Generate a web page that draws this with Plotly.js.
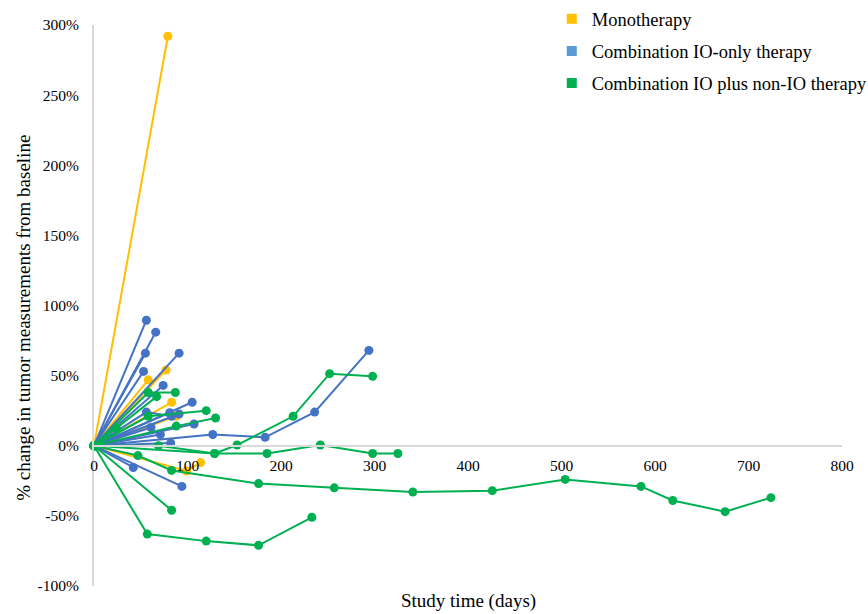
<!DOCTYPE html>
<html>
<head>
<meta charset="utf-8">
<script src="https://cdn.plot.ly/plotly-3.0.1.min.js"></script>
<style>html,body{margin:0;padding:0;background:#fff;}#chart{width:868px;height:614px;}</style>
</head>
<body>
<div id="chart"></div>
<script>
// Series names
const seriesNames = ["Monotherapy", "Combination IO-only therapy", "Combination IO plus non-IO therapy"];

// Monotherapy patients: study day and % change
const monoDays = [[0, 79], [0, 77], [0, 58], [0, 83], [0, 88], [0, 99, 114]];
const monoChange = [[0, 292], [0, 54], [0, 47], [0, 31], [0, 21], [0, -18, -12]];

// Combination IO-only therapy patients
const ioDays = [[0, 56], [0, 66], [0, 91], [0, 55], [0, 53], [0, 74], [0, 105], [0, 81], [0, 56, 83], [0, 91],
  [0, 107], [0, 127, 183, 236, 294], [0, 61], [0, 71], [0, 82], [0, 42], [0, 94]];
const ioChange = [[0, 89.5], [0, 81], [0, 66], [0, 66], [0, 53], [0, 43], [0, 31], [0, 23.6], [0, 24, 21], [0, 22.6],
  [0, 15.5], [0, 8, 6, 24, 68], [0, 13], [0, 8], [0, 2], [0, -15.5], [0, -29]];

// Combination IO plus non-IO therapy patients
const comboDays = [[0, 57, 120, 176, 233], [0, 83], [0, 47, 83, 176, 257, 341, 426, 504, 585, 619, 675, 724],
  [0, 129, 153, 213, 252, 298], [0, 69, 129, 185, 242, 298, 325], [0, 58, 87], [0, 24, 67], [0, 58, 120], [0, 88, 130]];
const comboChange = [[0, -63, -68, -71, -51], [0, -46], [0, -7, -17.6, -27, -30, -33, -32, -24, -29, -39, -47, -37],
  [0, -5.5, 0.5, 21, 51.4, 49.5], [0, 0, -5.5, -5.5, 0.5, -5.5, -5.5], [0, 38, 38], [0, 12.6, 35], [0, 21, 25], [0, 14, 19.8]];

// Tick values
const xTicks = [0, 100, 200, 300, 400, 500, 600, 700, 800];
const yTicks = [-100, -50, 0, 50, 100, 150, 200, 250, 300];

const lineColors = ["#FFC000", "#4472C4", "#00B050"];
const legendColors = ["#FFC000", "#5B9BD5", "#00B050"];

const groups = [[monoDays, monoChange], [ioDays, ioChange], [comboDays, comboChange]];
const traces = [];
groups.forEach(function (g, gi) {
  g[0].forEach(function (days, pi) {
    traces.push({
      x: days, y: g[1][pi], type: "scatter", mode: "lines+markers",
      line: {color: lineColors[gi], width: 2},
      marker: {color: lineColors[gi], size: 9},
      cliponaxis: false, showlegend: false, hoverinfo: "x+y"
    });
  });
});
seriesNames.forEach(function (name, i) {
  traces.push({
    x: [null], y: [null], type: "scatter", mode: "markers", name: name,
    legendgroup: "g" + i,
    marker: {color: legendColors[i], size: 10, symbol: "square"}
  });
});

const fontFam = "Liberation Serif";
const layout = {
  width: 868, height: 614,
  margin: {l: 94, r: 26, t: 25, b: 28, autoexpand: false},
  paper_bgcolor: "#fff", plot_bgcolor: "#fff",
  font: {family: fontFam, color: "#000", size: 15},
  showlegend: true,
  legend: {x: 0.612, y: 1.044, xanchor: "left", yanchor: "top", font: {family: fontFam, size: 18.5, color: "#000"},
    tracegroupgap: 5, itemwidth: 30, bgcolor: "rgba(0,0,0,0)"},
  xaxis: {
    range: [0, 800], tickvals: xTicks, ticktext: xTicks.map(String),
    anchor: "free", position: 0.25,
    showgrid: false, zeroline: false, showline: true, linecolor: "#d9d9d9", linewidth: 2,
    ticks: "", ticklabelstandoff: 6,
    tickfont: {family: fontFam, size: 15.5, color: "#000"}
  },
  yaxis: {
    range: [-100, 300], tickvals: yTicks, ticktext: yTicks.map(function (v) { return v + "%"; }),
    showgrid: false, zeroline: false, showline: true, linecolor: "#d9d9d9", linewidth: 2,
    ticks: "", ticklabelstandoff: 10,
    tickfont: {family: fontFam, size: 15.5, color: "#000"}
  },
  annotations: [
    {text: "Study time (days)", xref: "paper", yref: "paper", x: 0.5, y: -0.027, xanchor: "center", yanchor: "middle",
      showarrow: false, font: {family: fontFam, size: 19, color: "#000"}},
    {text: "% change in tumor measurements from baseline", xref: "paper", yref: "paper", x: -0.0936, y: 0.478,
      xanchor: "center", yanchor: "middle", textangle: -90, showarrow: false, font: {family: fontFam, size: 19, color: "#000"}}
  ]
};

Plotly.newPlot("chart", traces, layout, {displayModeBar: false, staticPlot: true});
</script>
</body>
</html>
